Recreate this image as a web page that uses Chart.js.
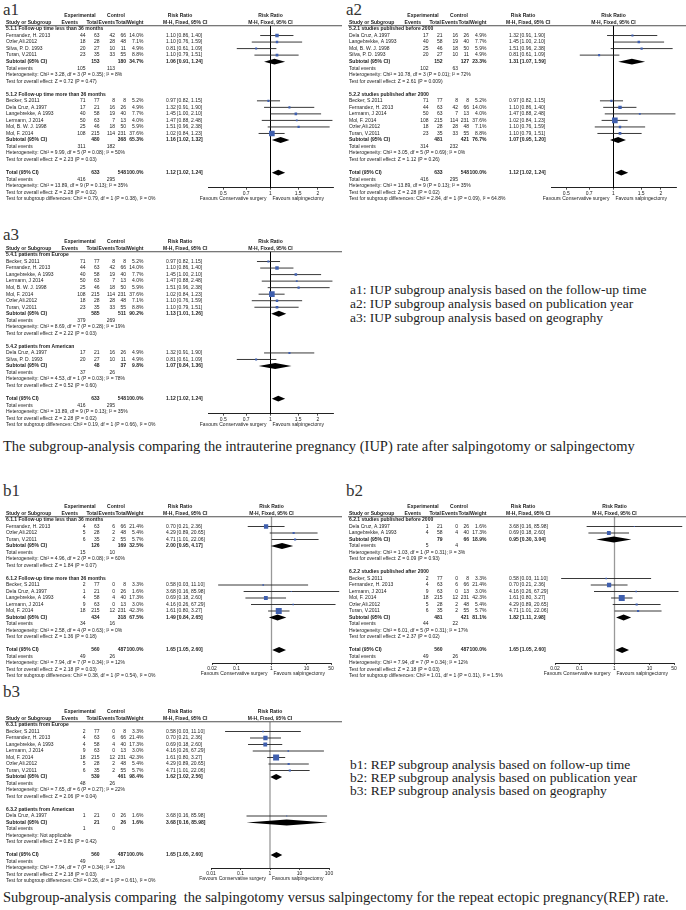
<!DOCTYPE html>
<html>
<head>
<meta charset="utf-8">
<script src="https://cdn.jsdelivr.net/npm/chart.js@4.4.0/dist/chart.umd.min.js"></script>
<style>
body { margin: 0; background: #fff; }
#page { position: relative; width: 686px; height: 910px; overflow: hidden; }
canvas { position: absolute; }
.lab { position: absolute; font-family: "Liberation Serif", "Times New Roman", serif; color: #222; white-space: pre; line-height: 1; }
.pn { font-size: 17px; color: #333; }
.cap { font-size: 13.5px; }
.big { font-size: 14.5px; }
</style>
</head>
<body>
<div id="page">
  <div class="lab pn" style="left:3px;top:1px">a1</div>
  <div class="lab pn" style="left:346px;top:1px">a2</div>
  <div class="lab pn" style="left:3px;top:226px">a3</div>
  <div class="lab cap" style="left:350px;top:283px">a1: IUP subgroup analysis based on the follow-up time</div>
  <div class="lab cap" style="left:350px;top:297px">a2: IUP subgroup analysis based on publication year</div>
  <div class="lab cap" style="left:350px;top:311px">a3: IUP subgroup analysis based on geography</div>
  <div class="lab big" style="left:3px;top:439px">The subgroup-analysis comparing the intrauterine pregnancy (IUP) rate after salpingotomy or salpingectomy</div>
  <div class="lab pn" style="left:3px;top:482px">b1</div>
  <div class="lab pn" style="left:346px;top:482px">b2</div>
  <div class="lab pn" style="left:3px;top:683px">b3</div>
  <div class="lab cap" style="left:350px;top:758px">b1: REP subgroup analysis based on follow-up time</div>
  <div class="lab cap" style="left:350px;top:771px">b2: REP subgroup analysis based on publication year</div>
  <div class="lab cap" style="left:350px;top:784px">b3: REP subgroup analysis based on geography</div>
  <div class="lab big" style="left:3px;top:890px">Subgroup-analysis comparing  the salpingotomy versus salpingectomy for the repeat ectopic pregnancy(REP) rate.</div>

  <canvas id="a1" width="342" height="200" style="left:0px;top:8px"></canvas>
  <canvas id="a2" width="343" height="200" style="left:343px;top:8px"></canvas>
  <canvas id="a3" width="342" height="200" style="left:0px;top:234px"></canvas>
  <canvas id="b1" width="342" height="186" style="left:0px;top:499px"></canvas>
  <canvas id="b2" width="343" height="186" style="left:343px;top:499px"></canvas>
  <canvas id="b3" width="342" height="186" style="left:0px;top:704px"></canvas>
</div>
<script>
// ---- IUP (intrauterine pregnancy), one entry per study
var iupStudies = ["Becker, S.2011", "Dela Cruz, A.1997", "Fernandez, H. 2013", "Langebrekke, A 1993", "Lermann, J 2014",
                  "Mol, B. W. J. 1998", "Mol, F. 2014", "Ozler,Ali.2012", "Silva, P. D. 1993", "Turan, V.2011"];
var iupExpEvents = [71, 17, 44, 40, 50, 25, 108, 18, 20, 23];
var iupExpTotal  = [77, 21, 63, 58, 63, 46, 215, 28, 27, 35];
var iupCtlEvents = [8, 16, 42, 19, 7, 18, 114, 28, 10, 33];
var iupCtlTotal  = [8, 26, 66, 40, 13, 50, 231, 48, 11, 55];
var iupWeight    = [5.2, 4.9, 14.0, 7.7, 4.0, 5.9, 37.6, 7.1, 4.9, 8.8];
var iupRR        = [0.97, 1.32, 1.10, 1.45, 1.47, 1.51, 1.02, 1.10, 0.81, 1.10];
var iupLo        = [0.82, 0.91, 0.86, 1.00, 0.88, 0.96, 0.84, 0.76, 0.61, 0.79];
var iupHi        = [1.15, 1.90, 1.40, 2.10, 2.48, 2.38, 1.23, 1.59, 1.09, 1.51];
var iupTotalN = [633, 548];
var iupTotalEvents = [416, 295];
var iupTotalRR = [1.12, 1.02, 1.24];
var iupTotalHet = "Heterogeneity: Chi² = 13.89, df = 9 (P = 0.13); I² = 35%";
var iupTotalZ = "Test for overall effect: Z = 2.28 (P = 0.02)";

// ---- REP (repeat ectopic pregnancy)
var repStudies = ["Becker, S.2011", "Dela Cruz, A.1997", "Fernandez, H. 2013", "Langebrekke, A 1993",
                  "Lermann, J 2014", "Mol, F. 2014", "Ozler,Ali.2012", "Turan, V.2011"];
var repExpEvents = [2, 1, 4, 4, 9, 18, 5, 6];
var repExpTotal  = [77, 21, 63, 58, 63, 215, 28, 35];
var repCtlEvents = [0, 0, 6, 4, 0, 12, 2, 2];
var repCtlTotal  = [8, 26, 66, 40, 13, 231, 48, 55];
var repWeight    = [3.3, 1.6, 21.4, 17.3, 3.0, 42.3, 5.4, 5.7];
var repRR        = [0.58, 3.68, 0.70, 0.69, 4.16, 1.61, 4.29, 4.71];
var repLo        = [0.03, 0.16, 0.21, 0.18, 0.26, 0.80, 0.89, 1.01];
var repHi        = [11.10, 85.98, 2.36, 2.60, 67.29, 3.27, 20.65, 22.06];
var repTotalN = [560, 487];
var repTotalEvents = [49, 26];
var repTotalRR = [1.65, 1.05, 2.60];
var repTotalHet = "Heterogeneity: Chi² = 7.94, df = 7 (P = 0.34); I² = 12%";
var repTotalZ = "Test for overall effect: Z = 2.18 (P = 0.03)";

// ---- a1
var a1Groups = ["5.1.1 Follow-up time less than 36 months", "5.1.2 Follow-up time more than 36 months"];
var a1Members = [["Fernandez, H. 2013", "Ozler,Ali.2012", "Silva, P. D. 1993", "Turan, V.2011"],
                 ["Becker, S.2011", "Dela Cruz, A.1997", "Langebrekke, A 1993", "Lermann, J 2014", "Mol, B. W. J. 1998", "Mol, F. 2014"]];
var a1SubN = [[153, 180], [480, 368]];
var a1SubEvents = [[105, 113], [311, 182]];
var a1SubWeight = [34.7, 65.3];
var a1SubRR = [[1.06, 0.91, 1.24], [1.16, 1.02, 1.32]];
var a1SubHet = ["Heterogeneity: Chi² = 3.28, df = 3 (P = 0.35); I² = 8%", "Heterogeneity: Chi² = 9.99, df = 5 (P = 0.08); I² = 50%"];
var a1SubZ = ["Test for overall effect: Z = 0.72 (P = 0.47)", "Test for overall effect: Z = 2.23 (P = 0.03)"];
var a1Diff = "Test for subgroup differences: Chi² = 0.79, df = 1 (P = 0.38), I² = 0%";

// ---- a2
var a2Groups = ["5.2.1 studies published before 2000", "5.2.2 studies published after 2000"];
var a2Members = [["Dela Cruz, A.1997", "Langebrekke, A 1993", "Mol, B. W. J. 1998", "Silva, P. D. 1993"],
                 ["Becker, S.2011", "Fernandez, H. 2013", "Lermann, J 2014", "Mol, F. 2014", "Ozler,Ali.2012", "Turan, V.2011"]];
var a2SubN = [[152, 127], [481, 421]];
var a2SubEvents = [[102, 63], [314, 232]];
var a2SubWeight = [23.3, 76.7];
var a2SubRR = [[1.31, 1.07, 1.59], [1.07, 0.95, 1.20]];
var a2SubHet = ["Heterogeneity: Chi² = 10.78, df = 3 (P = 0.01); I² = 72%", "Heterogeneity: Chi² = 3.05, df = 5 (P = 0.69); I² = 0%"];
var a2SubZ = ["Test for overall effect: Z = 2.61 (P = 0.009)", "Test for overall effect: Z = 1.12 (P = 0.26)"];
var a2Diff = "Test for subgroup differences: Chi² = 2.84, df = 1 (P = 0.09), I² = 64.8%";

// ---- a3
var a3Groups = ["5.4.1 patients from Europe", "5.4.2 patients from American"];
var a3Members = [["Becker, S.2011", "Fernandez, H. 2013", "Langebrekke, A 1993", "Lermann, J 2014", "Mol, B. W. J. 1998", "Mol, F. 2014", "Ozler,Ali.2012", "Turan, V.2011"],
                 ["Dela Cruz, A.1997", "Silva, P. D. 1993"]];
var a3SubN = [[585, 511], [48, 37]];
var a3SubEvents = [[379, 269], [37, 26]];
var a3SubWeight = [90.2, 9.8];
var a3SubRR = [[1.13, 1.01, 1.26], [1.07, 0.84, 1.36]];
var a3SubHet = ["Heterogeneity: Chi² = 8.69, df = 7 (P = 0.28); I² = 19%", "Heterogeneity: Chi² = 4.53, df = 1 (P = 0.03); I² = 78%"];
var a3SubZ = ["Test for overall effect: Z = 2.22 (P = 0.03)", "Test for overall effect: Z = 0.52 (P = 0.60)"];
var a3Diff = "Test for subgroup differences: Chi² = 0.19, df = 1 (P = 0.66), I² = 0%";

// ---- b1
var b1Groups = ["6.1.1 Follow-up time less than 36 months", "6.1.2 Follow-up time more than 36 months"];
var b1Members = [["Fernandez, H. 2013", "Ozler,Ali.2012", "Turan, V.2011"],
                 ["Becker, S.2011", "Dela Cruz, A.1997", "Langebrekke, A 1993", "Lermann, J 2014", "Mol, F. 2014"]];
var b1SubN = [[126, 169], [434, 318]];
var b1SubEvents = [[15, 10], [34, 16]];
var b1SubWeight = [32.5, 67.5];
var b1SubRR = [[2.00, 0.95, 4.17], [1.49, 0.84, 2.65]];
var b1SubHet = ["Heterogeneity: Chi² = 4.96, df = 2 (P = 0.08); I² = 60%", "Heterogeneity: Chi² = 2.58, df = 4 (P = 0.63); I² = 0%"];
var b1SubZ = ["Test for overall effect: Z = 1.84 (P = 0.07)", "Test for overall effect: Z = 1.36 (P = 0.18)"];
var b1Diff = "Test for subgroup differences: Chi² = 0.38, df = 1 (P = 0.54), I² = 0%";

// ---- b2
var b2Groups = ["6.2.1 studies published before 2000", "6.2.2 studies published after 2000"];
var b2Members = [["Dela Cruz, A.1997", "Langebrekke, A 1993"],
                 ["Becker, S.2011", "Fernandez, H. 2013", "Lermann, J 2014", "Mol, F. 2014", "Ozler,Ali.2012", "Turan, V.2011"]];
var b2SubN = [[79, 66], [481, 421]];
var b2SubEvents = [[5, 4], [44, 22]];
var b2SubWeight = [18.9, 81.1];
var b2SubRR = [[0.95, 0.30, 3.04], [1.82, 1.11, 2.98]];
var b2SubHet = ["Heterogeneity: Chi² = 1.03, df = 1 (P = 0.31); I² = 3%", "Heterogeneity: Chi² = 6.01, df = 5 (P = 0.31); I² = 17%"];
var b2SubZ = ["Test for overall effect: Z = 0.09 (P = 0.93)", "Test for overall effect: Z = 2.37 (P = 0.02)"];
var b2Diff = "Test for subgroup differences: Chi² = 1.01, df = 1 (P = 0.31), I² = 1.5%";

// ---- b3
var b3Groups = ["6.3.1 patients from Europe", "6.3.2 patients from American"];
var b3Members = [["Becker, S.2011", "Fernandez, H. 2013", "Langebrekke, A 1993", "Lermann, J 2014", "Mol, F. 2014", "Ozler,Ali.2012", "Turan, V.2011"],
                 ["Dela Cruz, A.1997"]];
var b3SubN = [[539, 461], [21, 26]];
var b3SubEvents = [[48, 26], [1, 0]];
var b3SubWeight = [98.4, 1.6];
var b3SubRR = [[1.62, 1.02, 2.56], [3.68, 0.16, 85.98]];
var b3SubHet = ["Heterogeneity: Chi² = 7.65, df = 6 (P = 0.27); I² = 22%", "Heterogeneity: Not applicable"];
var b3SubZ = ["Test for overall effect: Z = 2.06 (P = 0.04)", "Test for overall effect: Z = 0.81 (P = 0.42)"];
var b3Diff = "Test for subgroup differences: Chi² = 0.26, df = 1 (P = 0.61), I² = 0%";

// ---- axis ticks
var aTicks = [0.5, 0.7, 1, 1.5, 2];
var aTickLabels = ["0.5", "0.7", "1", "1.5", "2"];
var b12Ticks = [0.02, 0.1, 1, 10, 50];
var b12TickLabels = ["0.02", "0.1", "1", "10", "50"];
var b3Ticks = [0.01, 0.1, 1, 10, 100];
var b3TickLabels = ["0.01", "0.1", "1", "10", "100"];


var FONT = "'Liberation Sans', Arial, sans-serif";
var INK = "#222";
var BLUE = "#3f5fae";
var AXIS_H = 12;
// column x positions inside a panel
var COL = { name: 6, ee: 85.5, et: 99.5, ce: 115, ct: 126, w: 143.5, ci: 166 };

var iup = { names: iupStudies, ee: iupExpEvents, et: iupExpTotal, ce: iupCtlEvents, ct: iupCtlTotal,
            w: iupWeight, rr: iupRR, lo: iupLo, hi: iupHi,
            totN: iupTotalN, totEv: iupTotalEvents, totRR: iupTotalRR, totHet: iupTotalHet, totZ: iupTotalZ };
var rep = { names: repStudies, ee: repExpEvents, et: repExpTotal, ce: repCtlEvents, ct: repCtlTotal,
            w: repWeight, rr: repRR, lo: repLo, hi: repHi,
            totN: repTotalN, totEv: repTotalEvents, totRR: repTotalRR, totHet: repTotalHet, totZ: repTotalZ };

var fmtCI = function(e){ return e[0].toFixed(2) + " [" + e[1].toFixed(2) + ", " + e[2].toFixed(2) + "]"; };

var makeForest = function(id, src, pn, ax){
    var canvas = document.getElementById(id);
    var W = canvas.width, H = canvas.height;

    // rows of the table, row 0/1 are the two header lines
    var rows = [];
    var r = 2;
    for (var g = 0; g < pn.groups.length; g++) {
        rows.push({ r: r++, kind: 'head', name: pn.groups[g] });
        for (var m = 0; m < pn.members[g].length; m++) {
            var k = src.names.indexOf(pn.members[g][m]);
            rows.push({ r: r++, kind: 'study', name: src.names[k],
                        n: [src.ee[k], src.et[k], src.ce[k], src.ct[k]], w: src.w[k],
                        est: [src.rr[k], src.lo[k], src.hi[k]] });
        }
        rows.push({ r: r++, kind: 'sub', name: 'Subtotal (95% CI)', n: [null, pn.subN[g][0], null, pn.subN[g][1]],
                    w: pn.subWeight[g], est: pn.subRR[g] });
        rows.push({ r: r++, kind: 'events', name: 'Total events', n: [pn.subEvents[g][0], null, pn.subEvents[g][1], null] });
        rows.push({ r: r++, kind: 'note', name: pn.subHet[g] });
        rows.push({ r: r++, kind: 'note', name: pn.subZ[g] });
        r++;
    }
    var totalRow = r;
    rows.push({ r: r++, kind: 'sub', name: 'Total (95% CI)', n: [null, src.totN[0], null, src.totN[1]], w: 100, est: src.totRR });
    rows.push({ r: r++, kind: 'events', name: 'Total events', n: [src.totEv[0], null, src.totEv[1], null] });
    rows.push({ r: r++, kind: 'note', name: src.totHet });
    rows.push({ r: r++, kind: 'note', name: src.totZ });
    rows.push({ r: r++, kind: 'note', name: pn.diff });
    var axisRow = totalRow + ax.gap;

    var studies = rows.filter(function(x){ return x.kind === 'study'; });
    var pooled = rows.filter(function(x){ return x.kind === 'sub'; });

    var datasets = [];
    datasets.push({
        data: studies.map(function(s){ return { x: s.est[0], y: s.r }; }),
        pointStyle: 'rect',
        pointRadius: studies.map(function(s){ return 0.65 * Math.sqrt(s.w); }),
        backgroundColor: BLUE, borderWidth: 0, order: 0
    });
    studies.forEach(function(s){
        datasets.push({
            data: [{ x: s.est[1], y: s.r }, { x: s.est[2], y: s.r }],
            showLine: true, borderColor: INK, borderWidth: 0.9, pointRadius: 0, clip: false, order: 1
        });
    });
    datasets.push({
        data: [{ x: 1, y: 1.5 }, { x: 1, y: axisRow }],
        showLine: true, borderColor: ax.nullColor, borderWidth: ax.nullWidth, pointRadius: 0, order: 2
    });

    var padTop = ax.rowTop - 0.5 * ax.pitch;
    var bottomPix = ax.rowTop + (axisRow - 2) * ax.pitch;

    var tablePlugin = {
        id: 'forestTable',
        afterDatasetsDraw: function(chart){
            var ctx = chart.ctx, xs = chart.scales.x, ys = chart.scales.y;
            ctx.save();
            ctx.fillStyle = "#000";
            pooled.forEach(function(p){
                var y = ys.getPixelForValue(p.r);
                var h = 0.45 * ax.pitch;
                ctx.beginPath();
                ctx.moveTo(xs.getPixelForValue(p.est[1]), y);
                ctx.lineTo(xs.getPixelForValue(p.est[0]), y - h);
                ctx.lineTo(xs.getPixelForValue(p.est[2]), y);
                ctx.lineTo(xs.getPixelForValue(p.est[0]), y + h);
                ctx.closePath();
                ctx.fill();
            });
            ctx.restore();
        },
        afterDraw: function(chart){
            var ctx = chart.ctx, xs = chart.scales.x, ys = chart.scales.y, ca = chart.chartArea;
            var yp = function(v){ return ys.getPixelForValue(v); };
            var txt = function(s, x, y, align, bold){
                ctx.font = (bold ? "bold " : "") + "5px " + FONT;
                ctx.textAlign = align;
                ctx.fillText(s, x, y);
            };
            ctx.save();
            ctx.fillStyle = INK;
            ctx.textBaseline = 'middle';
            var mid = (ca.left + ca.right) / 2;
            // header
            txt("Experimental", 80, yp(0), 'center', true);
            txt("Control", 116, yp(0), 'center', true);
            txt("Risk Ratio", 180, yp(0), 'center', true);
            txt("Risk Ratio", mid, yp(0), 'center', true);
            txt("Study or Subgroup", COL.name, yp(1), 'left', true);
            txt("Events", 78, yp(1), 'right', true);
            txt("Total", 98, yp(1), 'right', true);
            txt("Events", 115, yp(1), 'right', true);
            txt("Total", 127, yp(1), 'right', true);
            txt("Weight", 143.5, yp(1), 'right', true);
            txt("M-H, Fixed, 95% CI", 163, yp(1), 'left', true);
            txt("M-H, Fixed, 95% CI", mid, yp(1), 'center', true);
            ctx.strokeStyle = INK;
            ctx.lineWidth = 0.8;
            ctx.beginPath();
            ctx.moveTo(COL.name - 1, yp(1.5));
            ctx.lineTo(W, yp(1.5));
            ctx.stroke();
            // body
            rows.forEach(function(row){
                var y = yp(row.r);
                var bold = row.kind === 'head' || row.kind === 'sub';
                txt(row.name, COL.name, y, 'left', bold);
                if (row.n) {
                    var cols = [COL.ee, COL.et, COL.ce, COL.ct];
                    for (var i = 0; i < 4; i++) {
                        if (row.n[i] !== null) txt(String(row.n[i]), cols[i], y, 'right', bold);
                    }
                }
                if (row.est) {
                    txt(row.w.toFixed(1) + "%", COL.w, y, 'right', bold);
                    txt(fmtCI(row.est), COL.ci, y, 'left', bold);
                }
            });
            // favours labels
            var x1 = xs.getPixelForValue(1);
            txt("Favours Conservative surgery", x1 - 4, ca.bottom + 11, 'right', false);
            txt("Favours salpingectomy", x1 + 2, ca.bottom + 11, 'left', false);
            ctx.restore();
        }
    };

    return new Chart(canvas.getContext("2d"), {
        type: 'scatter',
        data: { datasets: datasets },
        options: {
            responsive: false,
            devicePixelRatio: 1,
            animation: false,
            layout: { padding: { left: ax.left, right: W - ax.right, top: padTop, bottom: H - AXIS_H - bottomPix } },
            plugins: { legend: { display: false }, tooltip: { enabled: false } },
            scales: {
                x: {
                    type: 'logarithmic', min: ax.min, max: ax.max,
                    afterBuildTicks: function(s){ s.ticks = ax.ticks.map(function(v){ return { value: v }; }); },
                    afterFit: function(s){ s.height = AXIS_H; },
                    ticks: {
                        autoSkip: false, maxRotation: 0, padding: 1, color: INK,
                        font: { size: 5, family: FONT },
                        callback: function(v){ var i = ax.ticks.indexOf(v); return i >= 0 ? ax.labels[i] : ""; }
                    },
                    grid: { drawOnChartArea: false, drawTicks: true, tickLength: 2, color: INK, lineWidth: 0.8 },
                    border: { display: true, color: INK, width: 1 }
                },
                y: { type: 'linear', reverse: true, min: 1.5, max: axisRow, display: false }
            }
        },
        plugins: [tablePlugin]
    });
};

var aAxis = { min: 0.4, max: 2.5, ticks: aTicks, labels: aTickLabels, left: 208, right: 333,
              pitch: 6.53, rowTop: 21, gap: 2.3, nullColor: "#000", nullWidth: 1 };
var bAxis = { min: 0.02, max: 50, ticks: b12Ticks, labels: b12TickLabels, left: 212, right: 331,
              pitch: 6.5, rowTop: 21, gap: 2.0, nullColor: "#999", nullWidth: 1.3 };
var b3Axis = { min: 0.01, max: 100, ticks: b3Ticks, labels: b3TickLabels, left: 211, right: 329,
               pitch: 6.5, rowTop: 21, gap: 2.0, nullColor: "#999", nullWidth: 1.3 };

makeForest("a1", iup, { groups: a1Groups, members: a1Members, subN: a1SubN, subEvents: a1SubEvents, subWeight: a1SubWeight,
                        subRR: a1SubRR, subHet: a1SubHet, subZ: a1SubZ, diff: a1Diff }, aAxis);
makeForest("a2", iup, { groups: a2Groups, members: a2Members, subN: a2SubN, subEvents: a2SubEvents, subWeight: a2SubWeight,
                        subRR: a2SubRR, subHet: a2SubHet, subZ: a2SubZ, diff: a2Diff }, aAxis);
makeForest("a3", iup, { groups: a3Groups, members: a3Members, subN: a3SubN, subEvents: a3SubEvents, subWeight: a3SubWeight,
                        subRR: a3SubRR, subHet: a3SubHet, subZ: a3SubZ, diff: a3Diff }, aAxis);
makeForest("b1", rep, { groups: b1Groups, members: b1Members, subN: b1SubN, subEvents: b1SubEvents, subWeight: b1SubWeight,
                        subRR: b1SubRR, subHet: b1SubHet, subZ: b1SubZ, diff: b1Diff }, bAxis);
makeForest("b2", rep, { groups: b2Groups, members: b2Members, subN: b2SubN, subEvents: b2SubEvents, subWeight: b2SubWeight,
                        subRR: b2SubRR, subHet: b2SubHet, subZ: b2SubZ, diff: b2Diff }, bAxis);
makeForest("b3", rep, { groups: b3Groups, members: b3Members, subN: b3SubN, subEvents: b3SubEvents, subWeight: b3SubWeight,
                        subRR: b3SubRR, subHet: b3SubHet, subZ: b3SubZ, diff: b3Diff }, b3Axis);
</script>
</body>
</html>
